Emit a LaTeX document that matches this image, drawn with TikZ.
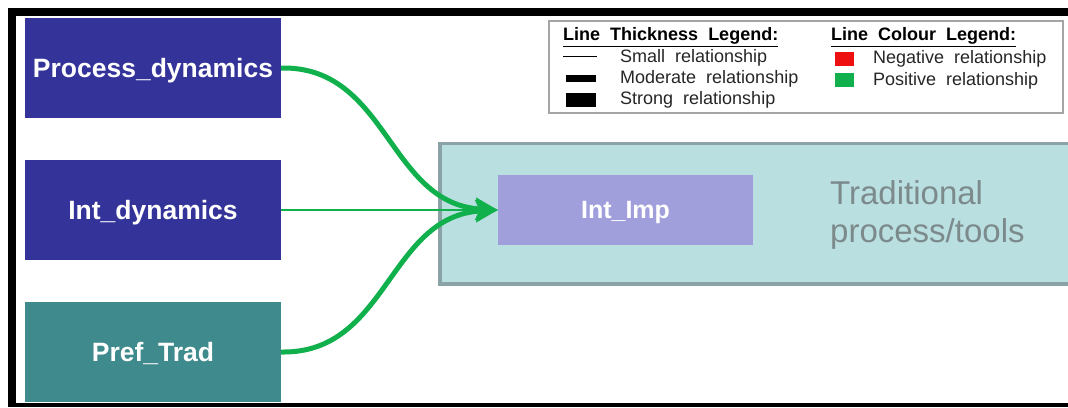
\documentclass[tikz,border=0pt]{standalone}
\usepackage{fontspec}
\setmainfont{Liberation Sans}
\usetikzlibrary{arrows.meta}

\definecolor{indigo}{RGB}{51,51,153}
\definecolor{tealnode}{RGB}{62,138,140}
\definecolor{lavender}{RGB}{160,159,220}
\definecolor{groupfill}{RGB}{185,223,225}
\definecolor{groupline}{RGB}{138,163,166}
\definecolor{posgreen}{RGB}{16,176,76}
\definecolor{neggred}{RGB}{238,16,16}
\definecolor{grouptext}{RGB}{125,138,140}
\definecolor{legendline}{RGB}{165,165,165}

\tikzset{
  factor/.style={draw=none, fill=indigo, minimum width=256pt, minimum height=100pt,
    inner sep=0pt, text depth=0pt, text=white, font=\fontsize{26.5}{30}\selectfont\bfseries},
  outcome/.style={draw=none, fill=lavender, minimum width=255pt, minimum height=70pt,
    inner sep=0pt, text depth=0pt, text=white, font=\fontsize{25}{28}\selectfont\bfseries},
  poslink/.style={draw=posgreen, -{Stealth[length=22pt,width=22pt,inset=4pt]}},
  legtext/.style={anchor=west, inner sep=0pt, text=black!85, font=\fontsize{18}{20}\selectfont},
  leghead/.style={anchor=west, inner sep=0pt, text=black, font=\fontsize{18}{20}\selectfont\bfseries},
}

\begin{document}
\begin{tikzpicture}[x=1pt, y=-1pt]
  \useasboundingbox (0,0) rectangle (1068,407);
  \fill[white] (0,0) rectangle (1068,407);

  % group box for the traditional tools
  \draw[fill=groupfill, draw=groupline, line width=3.5pt]
    (440,143.5) rectangle (1080,284);
  \node[anchor=west, align=left, text=grouptext, inner sep=0pt,
        font=\fontsize{33}{38}\selectfont] (grp) at (830,215)
        {Traditional\\process/tools};

  % factor nodes
  \node[factor] (pd) at (153,68) {Process\_dynamics};
  \node[factor] (id) at (153,210) {Int\_dynamics};
  \node[factor, fill=tealnode] (pt) at (153,352) {Pref\_Trad};
  \node[outcome] (ii) at (625.5,210) {Int\_Imp};

  % relationships
  \draw[poslink, line width=1.2pt] (id.east) -- (ii.west);
  \draw[poslink, line width=5pt] (pd.east)
    .. controls (388,66) and (388,204) .. (ii.west);
  \draw[poslink, line width=5pt] (pt.east)
    .. controls (388,354) and (388,216) .. (ii.west);

  % legend
  \draw[draw=legendline, fill=white, line width=1.3pt] (549,21) rectangle (1063,113);
  \node[leghead] (lth) at (563,37) {\underline{Line\ \ Thickness\ \ Legend:}};
  \node[legtext] (ls) at (620,58) {Small\ \ relationship};
  \node[legtext] (lm) at (620,79) {Moderate\ \ relationship};
  \node[legtext] (lg) at (620,100) {Strong\ \ relationship};
  \fill[black] (563,55.5) rectangle (597,56.8);
  \fill[black] (566,75) rectangle (596,82);
  \fill[black] (566,93) rectangle (596,107);

  \node[leghead] (lch) at (831,37) {\underline{Line\ \ Colour\ \ Legend:}};
  \node[legtext] (ln) at (873,59) {Negative\ \ relationship};
  \node[legtext] (lp) at (873,81) {Positive\ \ relationship};
  \fill[neggred] (835,52) rectangle (854,66);
  \fill[posgreen] (835,73) rectangle (854,87);

  % black frame
  \fill[black] (8,8) rectangle (1068,16);
  \fill[black] (8,8) rectangle (16,407);
  \fill[black] (8,402.5) rectangle (1068,407);
\end{tikzpicture}
\end{document}
